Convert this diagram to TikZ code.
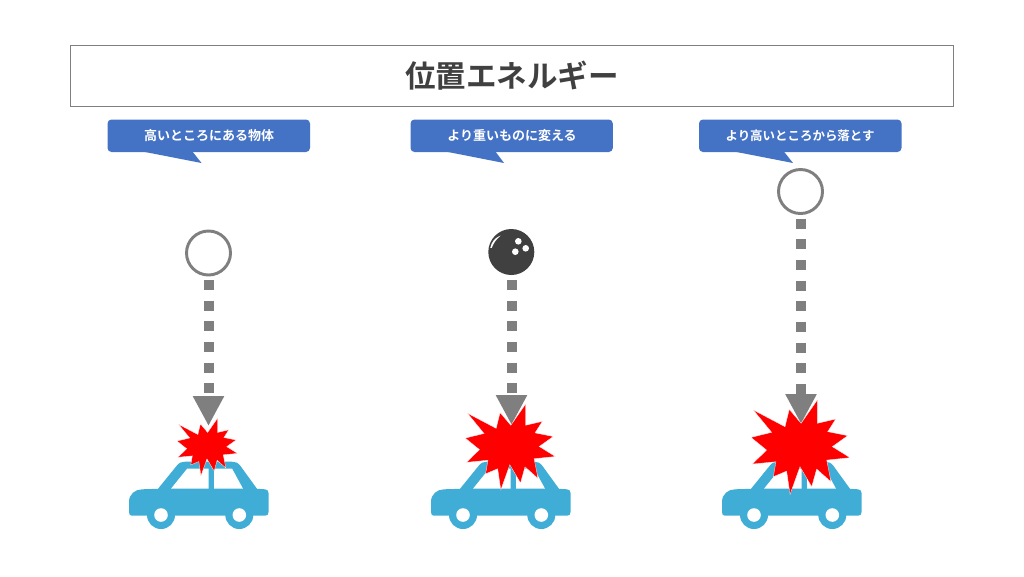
\documentclass[tikz,border=0pt]{standalone}
\usepackage{fontspec}
\setmainfont{Noto Sans CJK JP}[BoldFont={Noto Sans CJK JP Bold}]
\usetikzlibrary{arrows.meta}
\definecolor{cargc}{HTML}{3FADD5}
\definecolor{grayc}{HTML}{7F7F7F}
\definecolor{bluec}{HTML}{4472C4}
\definecolor{darkc}{HTML}{404040}
\tikzset{
  titlebox/.style={draw=grayc,line width=1.1pt,fill=white,minimum width=662pt,minimum height=46pt,inner sep=0pt,font=\bfseries\fontsize{22.9}{26}\selectfont,text=darkc},
  calltext/.style={inner sep=0pt,text=white,font=\bfseries\fontsize{9.75}{12}\selectfont},
  callfill/.style={fill=bluec,rounded corners=3pt},
  ballring/.style={circle,draw=grayc,line width=2.2pt,fill=white,minimum size=33pt,inner sep=0pt},
  ballsolid/.style={circle,fill=darkc,minimum size=34.5pt,inner sep=0pt},
  fall/.style={draw=grayc,line width=7.5pt,dash pattern=on 7.5pt off 8pt,-{Triangle[length=22.5pt,width=22pt,sep=0pt]}},
  burst/.style={fill=red,draw=white,line width=0.2pt}
}
\newcommand{\carshape}[1]{%
 \begin{scope}[shift={(#1,0)}]
  \fill[cargc] (129,502) .. controls (129,494) and (135,489.5) .. (142,489.3) -- (158,488.8) -- (176.5,466) .. controls (179,462.5) and (182,461.7) .. (185,461.7) -- (232,461.7) .. controls (235,461.7) and (238,462.5) .. (240.5,466) -- (257,488.8) -- (265,489.3) .. controls (267.5,489.5) and (268.5,491) .. (268.5,493) -- (268.5,512) .. controls (268.5,514.5) and (267.5,515.7) .. (265,515.7) -- (132,515.7) .. controls (130,515.7) and (129,514.5) .. (129,512) -- cycle;
  \fill[cargc] (161,515) circle[radius=14] (239.3,515) circle[radius=14];
  \fill[white] (161,515) circle[radius=6.8] (239.3,515) circle[radius=6.8];
  \fill[white] (171,488.7) -- (187.3,468.5) -- (208.5,468.5) -- (208.5,488.7) -- cycle;
  \fill[white] (214,468.5) -- (232,468.5) -- (243,488.7) -- (214,488.7) -- cycle;
 \end{scope}}
\newcommand{\burstshape}[3]{%
 \fill[burst,shift={(#1,#2)},scale=#3]
 (-42.9,-33.8) -- (-14.1,-18.6) -- (-10.2,-34.4) -- (0.5,-21.7) -- (15.3,-42.9) -- (15.3,-21.7) -- (32,-25.6) -- (24.7,-14.1) -- (42.9,-10.5) -- (28.9,-0.5) -- (45,9.5) -- (23.8,11.7) -- (27.7,31.4) -- (14.7,19.8) -- (10.2,35.9) -- (-0.5,17.7) -- (-9.5,42.9) -- (-12.6,21.7) -- (-24.7,26.8) -- (-22.3,13.2) -- (-43.8,15.3) -- (-30.8,2.6) -- (-45,-8.9) -- (-26.2,-13.5) -- cycle;}
\begin{document}
\begin{tikzpicture}[x=0.75pt,y=-0.75pt]
\useasboundingbox (0,0) rectangle (1024,576);
\fill[white] (0,0) rectangle (1024,576);
\node[titlebox] (title) at (512,76) {\raisebox{-0.75pt}{位置エネルギー}};
% callouts
\fill[callfill] (107.5,119.5) rectangle (310,152);
\fill[bluec] (140,151) -- (201.5,163) -- (192,151) -- cycle;
\node[calltext] (c1) at (209,136) {高いところにある物体};
\fill[callfill] (410.5,119.5) rectangle (612.8,152);
\fill[bluec] (443,151) -- (504,163) -- (495,151) -- cycle;
\node[calltext] (c2) at (512,136) {より重いものに変える};
\fill[callfill] (699,119.5) rectangle (901.5,152);
\fill[bluec] (731.5,151) -- (793,163) -- (783.5,151) -- cycle;
\node[calltext,font=\bfseries\fontsize{9.35}{12}\selectfont] (c3) at (800,136) {より高いところから落とす};
% cars
\carshape{0}
\carshape{302}
\carshape{593}
% balls
\node[ballring] (b1) at (208.5,253) {};
\node[ballsolid] (b2) at (511.3,252) {};
\node[ballring] (b3) at (800.5,191.5) {};
\fill[white] (518.3,241.3) circle[radius=3.3] (525.7,248.3) circle[radius=3.3] (515.3,251.7) circle[radius=3.3];
\fill[white] (490.3,247.7) .. controls (491.5,242) and (495,237.5) .. (500.7,235.5) .. controls (496.5,239) and (493.5,243) .. (491.7,248) .. controls (491.2,248.6) and (490.5,248.4) .. (490.3,247.7) -- cycle;
% arrows
\coordinate (s1) at (208.5,280);
\coordinate (s2) at (511.5,280);
\coordinate (s3) at (801,218.5);
\coordinate (t1) at (208.5,426);
\coordinate (t2) at (511.5,425);
\coordinate (t3) at (801,424);
\draw[fall] (s1) -- (t1);
\draw[fall] (s2) -- (t2);
\draw[fall] (s3) -- (t3);
% bursts
\burstshape{207.3}{447}{0.67}
\burstshape{510.3}{447}{1}
\burstshape{800.5}{447.2}{1.1}
\end{tikzpicture}
\end{document}
